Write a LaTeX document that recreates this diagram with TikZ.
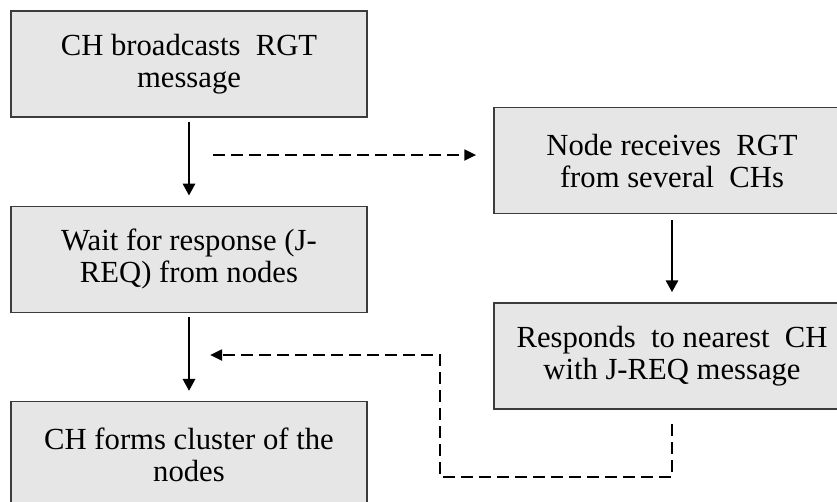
\documentclass[tikz,border=0pt]{standalone}
\usepackage{fontspec}
\setmainfont{Liberation Serif}
\usetikzlibrary{arrows.meta}
\definecolor{boxFill}{RGB}{230,230,230}
\definecolor{boxLine}{RGB}{60,60,60}
\tikzstyle{fProcess} = [rectangle, minimum width=267pt, minimum height=79.5pt, text centered, align=center, draw=boxLine, line width=1.1pt, fill=boxFill, font=\fontsize{23}{24}\selectfont]
\tikzstyle{fArrow} = [line width=2.2pt, -{Triangle[length=9pt,width=9pt]}, shorten <=3pt, shorten >=7.5pt]
\tikzstyle{fDashArrow} = [line width=2pt, dash pattern=on 9pt off 4.5pt, -{Triangle[length=9pt,width=8pt]}]

\begin{document}
\begin{tikzpicture}[node distance=146.5pt]
    \useasboundingbox (0,0) rectangle (627.75pt,-375.75pt);
    \node (bcast) [fProcess] at (141.75pt,-48pt) {CH broadcasts\ \ RGT\\message};
    \node (wait) [fProcess, below of=bcast] {Wait for response (J-\\REQ) from nodes};
    \node (form) [fProcess, below of=wait] {CH forms cluster of the\\nodes};
    \node (recv) [fProcess, right of=bcast, node distance=362.25pt, yshift=-72.5pt] {Node receives\ \ RGT\\from several\ \ CHs};
    \node (resp) [fProcess, below of=recv] {Responds\ \ to nearest\ \ CH\\with J-REQ message};

    \coordinate (rgtStart) at (159.75pt,-116.25pt);
    \coordinate (joinEnd) at (157.5pt,-266.25pt);
    \coordinate (joinCorner) at (330pt,-357.75pt);

    \draw [fArrow] (bcast) -- (wait);
    \draw [fArrow] (wait) -- (form);
    \draw [fArrow, shorten <=4.5pt] (recv) -- (resp);
    \draw [fDashArrow, shorten >=12.75pt] (rgtStart) -- (rgtStart -| recv.west);
    \draw [fDashArrow, shorten <=11pt] (resp.south) |- (joinCorner) |- (joinEnd);
\end{tikzpicture}
\end{document}
